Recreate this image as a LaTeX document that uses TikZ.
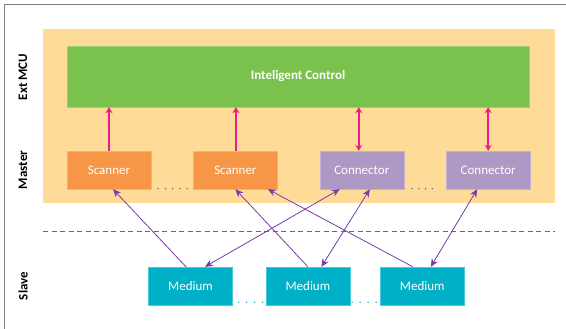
\documentclass[tikz,border=0pt]{standalone}
\usepackage{fontspec}
\setmainfont{Carlito}
\usetikzlibrary{arrows.meta,positioning}
\definecolor{mcubg}{RGB}{254,220,151}
\definecolor{ctrlgreen}{RGB}{122,193,78}
\definecolor{scanorange}{RGB}{247,150,70}
\definecolor{connpurple}{RGB}{173,153,196}
\definecolor{medteal}{RGB}{0,176,198}
\definecolor{ctrlpink}{RGB}{236,28,140}
\definecolor{linkpurple}{RGB}{120,60,168}
\definecolor{framegray}{RGB}{128,128,128}
\definecolor{sepgray}{RGB}{105,105,105}
\tikzstyle{block} = [align=center,rectangle,text=white,minimum width=84pt,minimum height=38pt,inner sep=0pt,font=\fontsize{13}{15}\selectfont]
\tikzstyle{scanner} = [block,fill=scanorange,draw=scanorange!75!white]
\tikzstyle{connector} = [block,fill=connpurple,draw=connpurple!75!white]
\tikzstyle{medium} = [block,fill=medteal,draw=medteal!70!white]
\tikzstyle{ctrl} = [block,fill=ctrlgreen,draw=ctrlgreen!75!white,minimum width=462pt,minimum height=61pt,font=\fontsize{13}{15}\selectfont\bfseries]
\tikzstyle{layer} = [align=center,rotate=90,font=\fontsize{13}{15}\selectfont\bfseries]
\tikzstyle{toctrl} = [ctrlpink,line width=1.5pt,-{Stealth[length=6pt,width=7pt]}]
\tikzstyle{ctrlboth} = [ctrlpink,line width=1.5pt,{Stealth[length=6pt,width=7pt]}-{Stealth[length=6pt,width=7pt]}]
\tikzstyle{link} = [linkpurple,line width=0.8pt,-{Stealth[length=8pt,width=7pt]}]
\tikzstyle{linkboth} = [linkpurple,line width=0.8pt,{Stealth[length=8pt,width=7pt]}-{Stealth[length=8pt,width=7pt]}]
\tikzstyle{dots} = [line width=1.6pt,line cap=round]

\begin{document}
\begin{tikzpicture}[x=1pt,y=-1pt,node distance=42pt]
				\useasboundingbox (0,0) rectangle (566,329);
				\draw [framegray,line width=1.5pt] (4.5,329) -- (4.5,4.5) -- (566,4.5);
				\fill [mcubg] (43,29) rectangle (555,203);
				\draw [sepgray,line width=1pt,dash pattern=on 5pt off 3.5pt] (43,231) -- (555,231);
				\node (lext) [layer] at (23,77) {Ext MCU};
				\node (lmaster) [layer] at (23,170) {Master};
				\node (lslave) [layer] at (23,286) {Slave};
				\node (ctrl) [ctrl] at (298,76.5) {Inteligent Control};
				\node (scan1) [scanner] at (109,170) {Scanner};
				\node (scan2) [scanner,right=of scan1] {Scanner};
				\node (conn1) [connector,right=of scan2] {Connector};
				\node (conn2) [connector,right=of conn1] {Connector};
				\node (med1) [medium] at (190.5,286) {Medium};
				\node (med2) [medium,right=33pt of med1] {Medium};
				\node (med3) [medium,right=30pt of med2] {Medium};
				\draw [toctrl] (scan1.north) -- (scan1.north |- ctrl.south);
				\draw [toctrl] ([xshift=0.5pt]scan2.north) -- ([xshift=0.5pt]scan2.north |- ctrl.south);
				\draw [ctrlboth] ([xshift=-3pt]conn1.north) -- ([xshift=-3pt]conn1.north |- ctrl.south);
				\draw [ctrlboth] (conn2.north) -- (conn2.north |- ctrl.south);
				\draw [link] ([xshift=-4.5pt]med1.north) -- ([xshift=4pt]scan1.south);
				\draw [link] (med2.north) -- (scan2.south);
				\draw [link] ([xshift=-9.5pt]med3.north) -- ([xshift=32.5pt]scan2.south);
				\draw [linkboth] ([xshift=-22pt]conn1.south) -- ([xshift=14.5pt]med1.north);
				\draw [linkboth] ([xshift=8pt]conn1.south) -- ([xshift=13.5pt]med2.north);
				\draw [linkboth] ([xshift=-11pt]conn2.south) -- ([xshift=8.5pt]med3.north);
				\draw [dots,sepgray,dash pattern=on 0pt off 7.25pt] ([xshift=7pt,yshift=0.5pt]scan1.south east) -- ([xshift=-6pt,yshift=0.5pt]scan2.south west);
				\draw [dots,sepgray,dash pattern=on 0pt off 6.75pt] ([xshift=8pt,yshift=0.5pt]conn1.south east) -- ([xshift=-7pt,yshift=0.5pt]conn2.south west);
				\draw [dots,medteal,dash pattern=on 0pt off 8pt] ([xshift=6pt,yshift=3pt]med1.south east) -- ([xshift=-3pt,yshift=3pt]med2.south west);
				\draw [dots,medteal,dash pattern=on 0pt off 8pt] ([xshift=2pt,yshift=3pt]med2.south east) -- ([xshift=-3pt,yshift=3pt]med3.south west);
			\end{tikzpicture}
\end{document}
